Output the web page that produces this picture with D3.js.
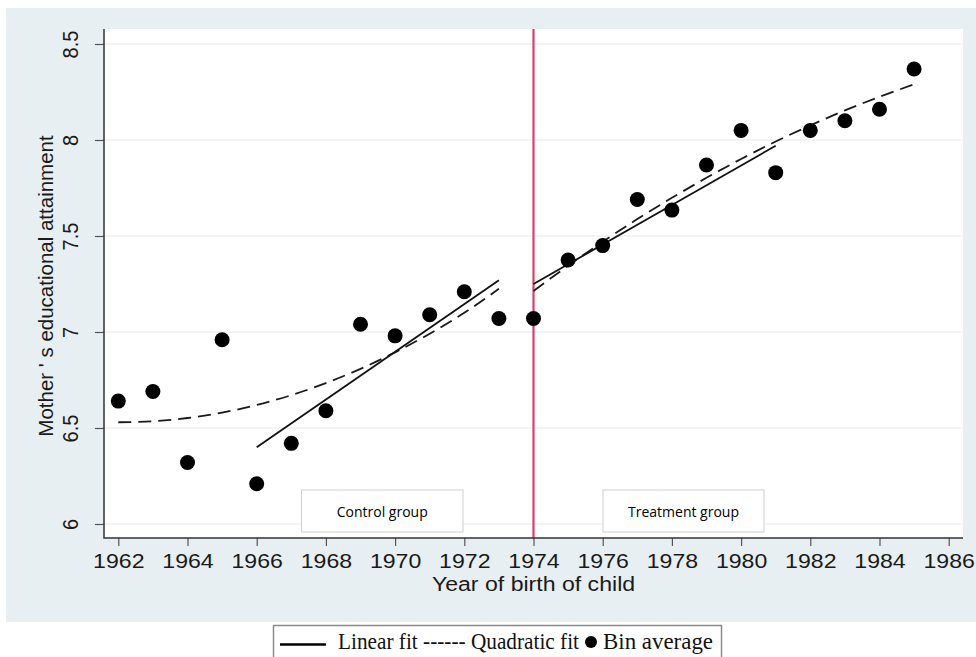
<!DOCTYPE html>
<html>
<head>
  <meta charset="utf-8">
  <script src="https://d3js.org/d3.v7.min.js"></script>
  <style>
    body { margin: 0; background: #fff; }
    .tick text { font-family: "Liberation Sans", Arial, sans-serif; fill: #1a1a1a; }
    .tick line { stroke: #555; stroke-width: 1.2; }
    .grid line { stroke: #edf2f4; stroke-width: 1.5; }
    .legend text { font-family: "Liberation Serif", "Times New Roman", serif; font-size: 23px; fill: #111; }
  </style>
</head>
<body>
  <script>

    // Bin averages
    var years = [1962, 1963, 1964, 1965, 1966, 1967, 1968, 1969, 1970, 1971, 1972, 1973,
                 1974, 1975, 1976, 1977, 1978, 1979, 1980, 1981, 1982, 1983, 1984, 1985];
    var binAvg = [6.64, 6.69, 6.32, 6.96, 6.21, 6.42, 6.59, 7.04, 6.98, 7.09, 7.21, 7.07,
                  7.07, 7.375, 7.45, 7.69, 7.635, 7.87, 8.05, 7.83, 8.05, 8.10, 8.16, 8.37];

    // Linear fits, end points
    var linControlYears = [1966, 1973];
    var linControl = [6.40, 7.27];
    var linTreatYears = [1974, 1981];
    var linTreat = [7.25, 7.97];

    // Quadratic fits, one reading per year
    var quadControlYears = [1962, 1963, 1964, 1965, 1966, 1967, 1968, 1969, 1970, 1971, 1972, 1973];
    var quadControl = [6.53, 6.535, 6.552, 6.58, 6.62, 6.671, 6.734, 6.808, 6.894, 6.991, 7.10, 7.225];
    var quadTreatYears = [1974, 1975, 1976, 1977, 1978, 1979, 1980, 1981, 1982, 1983, 1984, 1985];
    var quadTreat = [7.214, 7.345, 7.47, 7.588, 7.699, 7.803, 7.901, 7.992, 8.076, 8.154, 8.225, 8.29];

    var xTicks = d3.range(1962, 1987, 2);
    var yTicks = [6, 6.5, 7, 7.5, 8, 8.5];
    var cutoff = 1974;

    var W = 976, H = 657;
    var plot = {left: 104, right: 963, top: 29, bottom: 538};

    var x = d3.scaleLinear().domain([1962, 1986]).range([118.3, 948.7]);
    var y = d3.scaleLinear().domain([6, 8.5]).range([524, 44]);

    var svg = d3.select("body").append("svg")
        .attr("width", W)
        .attr("height", H);

    // outer background and plot region
    svg.append("rect").attr("x", 6).attr("y", 8).attr("width", W - 6).attr("height", 614)
        .attr("fill", "#e8eff2");
    svg.append("rect").attr("x", plot.left).attr("y", plot.top)
        .attr("width", plot.right - plot.left).attr("height", plot.bottom - plot.top)
        .attr("fill", "#fff");

    // gridlines
    svg.append("g").attr("class", "grid")
      .selectAll("line").data(yTicks).enter().append("line")
        .attr("x1", plot.left).attr("x2", plot.right)
        .attr("y1", function(d) { return y(d); })
        .attr("y2", function(d) { return y(d); });

    // group label boxes
    var boxes = [
      {label: "Control group", x0: 301.5, x1: 463},
      {label: "Treatment group", x0: 603, x1: 764}
    ];
    var bx = svg.append("g").selectAll("g").data(boxes).enter().append("g");
    bx.append("rect")
        .attr("x", function(d) { return d.x0; })
        .attr("y", 490)
        .attr("width", function(d) { return d.x1 - d.x0; })
        .attr("height", 42)
        .attr("fill", "#fff")
        .attr("stroke", "#cfcfcf");
    bx.append("text")
        .attr("x", function(d) { return (d.x0 + d.x1) / 2; })
        .attr("y", 517)
        .attr("text-anchor", "middle")
        .style("font-family", "'Open Sans', 'Noto Sans', sans-serif")
        .style("font-size", "14px")
        .attr("fill", "#000")
        .text(function(d) { return d.label; });

    // cutoff line
    svg.append("line")
        .attr("x1", x(cutoff)).attr("x2", x(cutoff))
        .attr("y1", plot.top).attr("y2", plot.bottom)
        .attr("stroke", "#d4426c")
        .attr("stroke-width", 2.2);

    var line = d3.line()
        .x(function(d) { return x(d[0]); })
        .y(function(d) { return y(d[1]); });
    var curve = d3.line()
        .x(function(d) { return x(d[0]); })
        .y(function(d) { return y(d[1]); })
        .curve(d3.curveNatural);

    // quadratic fits
    [[quadControlYears, quadControl], [quadTreatYears, quadTreat]].forEach(function(s) {
      svg.append("path")
          .datum(d3.zip(s[0], s[1]))
          .attr("d", curve)
          .attr("fill", "none")
          .attr("stroke", "#1a1a1a")
          .attr("stroke-width", 1.8)
          .attr("stroke-dasharray", "13,7");
    });

    // linear fits
    [[linControlYears, linControl], [linTreatYears, linTreat]].forEach(function(s) {
      svg.append("path")
          .datum(d3.zip(s[0], s[1]))
          .attr("d", line)
          .attr("fill", "none")
          .attr("stroke", "#111")
          .attr("stroke-width", 1.8);
    });

    // bin averages
    svg.append("g").selectAll("circle")
        .data(d3.zip(years, binAvg))
      .enter().append("circle")
        .attr("cx", function(d) { return x(d[0]); })
        .attr("cy", function(d) { return y(d[1]); })
        .attr("r", 7.5)
        .attr("fill", "#000");

    // axes
    var xAxis = svg.append("g")
        .attr("transform", "translate(0," + plot.bottom + ")")
        .call(d3.axisBottom(x).tickValues(xTicks).tickSize(8).tickSizeOuter(0)
          .tickFormat(function(d) { return d.toString(); }));
    xAxis.select(".domain").remove();
    xAxis.selectAll(".tick text")
        .attr("y", 30).attr("dy", null)
        .style("font-size", "21px")
        .attr("transform", "scale(1.1,1)");

    var yAxis = svg.append("g")
        .attr("transform", "translate(" + plot.left + ",0)")
        .call(d3.axisLeft(y).tickValues(yTicks).tickSize(9).tickSizeOuter(0)
          .tickFormat(d3.format("")));
    yAxis.select(".domain").remove();
    yAxis.selectAll(".tick text")
        .attr("x", 0).attr("y", -24).attr("dy", null)
        .attr("text-anchor", "middle")
        .attr("transform", "rotate(-90) scale(1,1.08)")
        .style("font-size", "20px");

    svg.append("path")
        .attr("d", "M" + plot.left + "," + plot.top + "V" + plot.bottom + "H" + plot.right)
        .attr("fill", "none")
        .attr("stroke", "#333")
        .attr("stroke-width", 1.5);

    // axis titles
    svg.append("text")
        .attr("transform", "translate(533.5,591) scale(1.1,1)")
        .attr("text-anchor", "middle")
        .style("font-family", "'Liberation Sans', Arial, sans-serif")
        .style("font-size", "21px")
        .attr("fill", "#1a1a1a")
        .text("Year of birth of child");

    svg.append("text")
        .attr("transform", "translate(53,286) rotate(-90)")
        .attr("text-anchor", "middle")
        .style("font-family", "'Liberation Sans', Arial, sans-serif")
        .style("font-size", "20.5px")
        .attr("fill", "#1a1a1a")
        .text("Mother ' s educational attainment");

    // legend below the graph
    var lg = svg.append("g").attr("class", "legend");
    lg.append("rect")
        .attr("x", 273.5).attr("y", 625.5)
        .attr("width", 448).attr("height", 40)
        .attr("fill", "#fff")
        .attr("stroke", "#8a8a8a")
        .attr("stroke-width", 1.5);
    lg.append("line")
        .attr("x1", 280).attr("x2", 326)
        .attr("y1", 644.5).attr("y2", 644.5)
        .attr("stroke", "#000").attr("stroke-width", 2.5);
    lg.append("text")
        .attr("x", 338).attr("y", 649)
        .attr("textLength", 241)
        .attr("lengthAdjust", "spacingAndGlyphs")
        .text("Linear fit ------ Quadratic fit");
    lg.append("circle")
        .attr("cx", 591).attr("cy", 642)
        .attr("r", 6)
        .attr("fill", "#000");
    lg.append("text")
        .attr("x", 603).attr("y", 649)
        .attr("textLength", 110)
        .attr("lengthAdjust", "spacingAndGlyphs")
        .text("Bin average");

  </script>
</body>
</html>
